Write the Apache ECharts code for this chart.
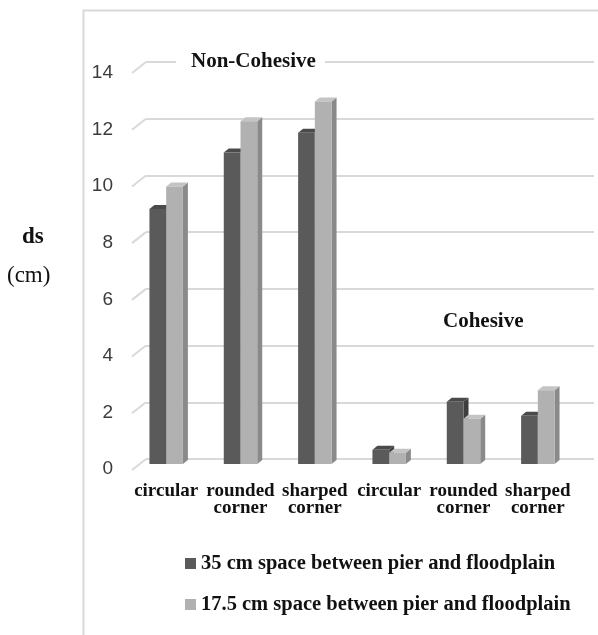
<!DOCTYPE html>
<html>
<head>
<meta charset="utf-8">
<style>
  html, body { margin: 0; padding: 0; background: #ffffff; }
  #chart { width: 598px; height: 635px; }
</style>
<script src="https://cdn.jsdelivr.net/npm/echarts@6/dist/echarts.min.js"></script>
</head>
<body>
<div id="chart"></div>
<script>
// ---- data ----
var categories = ['circular', 'rounded\ncorner', 'sharped\ncorner', 'circular', 'rounded\ncorner', 'sharped\ncorner'];
var space35 = [9.0, 11.0, 11.7, 0.5, 2.2, 1.7];
var space17_5 = [9.8, 12.1, 12.8, 0.4, 1.6, 2.6];
var seriesNames = ['35 cm space between pier and floodplain', '17.5 cm space between pier and floodplain'];
var yTicks = [0, 2, 4, 6, 8, 10, 12, 14];
var groupLabels = ['Non-Cohesive', 'Cohesive'];
var yTitle = 'ds';
var yUnit = '(cm)';

// ---- style ----
var SERIF = '"Liberation Serif", "DejaVu Serif", serif';
var SANS = '"Liberation Sans", Arial, sans-serif';
var DEPTH_X = 5, DEPTH_Y = -4;
var WALL_X = 14, WALL_Y = -11;
var palettes = [
  { front: '#5a5a5a', side: '#3e3e3e', top: '#4a4a4a' },
  { front: '#b1b1b1', side: '#8a8a8a', top: '#c4c4c4' }
];

function barRenderer(k) {
  return function (params, api) {
    var i = api.value(0), v = api.value(1);
    var base = api.coord([i, 0]);
    var top = api.coord([i, v]);
    var band = api.size([1, 0])[0];
    var w = band * 0.225;
    var x0 = k === 0 ? base[0] - w : base[0];
    var yt = top[1], yb = base[1];
    var c = palettes[k];
    return {
      type: 'group',
      children: [
        { type: 'polygon', shape: { points: [[x0 + w, yt], [x0 + w + DEPTH_X, yt + DEPTH_Y], [x0 + w + DEPTH_X, yb + DEPTH_Y], [x0 + w, yb]] }, style: { fill: c.side } },
        { type: 'polygon', shape: { points: [[x0, yt], [x0 + DEPTH_X, yt + DEPTH_Y], [x0 + w + DEPTH_X, yt + DEPTH_Y], [x0 + w, yt]] }, style: { fill: c.top } },
        { type: 'rect', shape: { x: x0, y: yt, width: w, height: yb - yt }, style: { fill: c.front } }
      ]
    };
  };
}

var chart = echarts.init(document.getElementById('chart'), null, { renderer: 'canvas' });
var option = {
  backgroundColor: '#ffffff',
  animation: false,
  grid: [
    { left: 146, right: 4, top: 62, bottom: 176 },   // back wall
    { left: 132, right: 18, top: 73, bottom: 166 },  // front plane (labels)
    { left: 129, right: 23, top: 67.5, bottom: 171 } // bar plane
  ],
  xAxis: [
    { gridIndex: 0, type: 'category', data: categories, show: false },
    { gridIndex: 1, type: 'category', data: categories, show: false },
    { gridIndex: 2, type: 'category', data: categories,
      axisLine: { show: false }, axisTick: { show: false },
      axisLabel: { interval: 0, margin: 19, fontFamily: SERIF, fontWeight: 'bold', fontSize: 19, lineHeight: 17, color: '#111111' } }
  ],
  yAxis: [
    { gridIndex: 0, type: 'value', min: 0, max: 14, interval: 2,
      axisLine: { show: false }, axisTick: { show: false }, axisLabel: { show: false },
      splitLine: { show: true, lineStyle: { color: '#d9d9d9', width: 2 } } },
    { gridIndex: 1, type: 'value', min: 0, max: 14, interval: 2,
      axisLine: { show: false }, axisTick: { show: false }, splitLine: { show: false },
      axisLabel: { margin: 19, fontFamily: SANS, fontSize: 19, color: '#3c3c3c' } },
    { gridIndex: 2, type: 'value', min: 0, max: 14, interval: 2, show: false }
  ],
  legend: {
    orient: 'vertical', left: 185, top: 553, padding: 0, itemWidth: 11, itemHeight: 11, itemGap: 20,
    icon: 'rect',
    data: seriesNames,
    textStyle: { fontFamily: SERIF, fontWeight: 'bold', fontSize: 20.5, color: '#111111' }
  },
  graphic: [
    { type: 'rect', left: 81, top: 8, shape: { width: 700, height: 800 }, style: { fill: 'none', stroke: '#d9d9d9', lineWidth: 2 }, silent: true, z: -10 },
    { type: 'text', left: 176, top: 49, z: 10, style: { text: groupLabels[0], font: 'bold 21px ' + SERIF, fill: '#111111', backgroundColor: '#ffffff', padding: [2, 9, 2, 15] } },
    { type: 'text', left: 443, top: 311, z: 10, style: { text: groupLabels[1], font: 'bold 21px ' + SERIF, fill: '#111111' } },
    { type: 'text', left: 22, top: 226, style: { text: yTitle, font: 'bold 23px ' + SERIF, fill: '#111111' } },
    { type: 'text', left: 7, top: 264, style: { text: yUnit, font: '23px ' + SERIF, fill: '#111111' } }
  ],
  series: [
    { type: 'custom', name: 'stubs', xAxisIndex: 0, yAxisIndex: 0, silent: true,
      data: yTicks.map(function (t) { return [0, t]; }),
      renderItem: function (params, api) {
        var p = api.coord([0, api.value(1)]);
        var x = params.coordSys.x;
        return { type: 'line', shape: { x1: x - WALL_X, y1: p[1] - WALL_Y, x2: x, y2: p[1] }, style: { stroke: '#d9d9d9', lineWidth: 2 } };
      } },
    { type: 'custom', name: seriesNames[0], xAxisIndex: 2, yAxisIndex: 2,
      itemStyle: { color: palettes[0].front },
      data: space35.map(function (v, i) { return [i, v]; }),
      renderItem: barRenderer(0) },
    { type: 'custom', name: seriesNames[1], xAxisIndex: 2, yAxisIndex: 2,
      itemStyle: { color: palettes[1].front },
      data: space17_5.map(function (v, i) { return [i, v]; }),
      renderItem: barRenderer(1) }
  ]
};
chart.setOption(option);
</script>
</body>
</html>
